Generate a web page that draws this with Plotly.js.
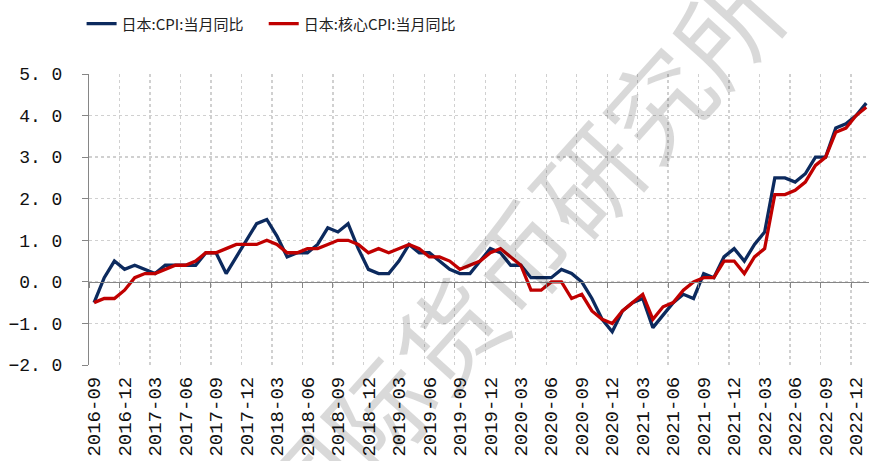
<!DOCTYPE html>
<html>
<head>
<meta charset="utf-8">
<script src="https://cdn.plot.ly/plotly-3.0.1.min.js"></script>
<style>html,body{margin:0;padding:0;background:#fff;}#chart{width:869px;height:461px;}</style>
</head>
<body>
<div id="chart"></div>
<script>
// Months (categories)
var months = [
  "2016-09","2016-10","2016-11","2016-12",
  "2017-01","2017-02","2017-03","2017-04","2017-05","2017-06","2017-07","2017-08","2017-09","2017-10","2017-11","2017-12",
  "2018-01","2018-02","2018-03","2018-04","2018-05","2018-06","2018-07","2018-08","2018-09","2018-10","2018-11","2018-12",
  "2019-01","2019-02","2019-03","2019-04","2019-05","2019-06","2019-07","2019-08","2019-09","2019-10","2019-11","2019-12",
  "2020-01","2020-02","2020-03","2020-04","2020-05","2020-06","2020-07","2020-08","2020-09","2020-10","2020-11","2020-12",
  "2021-01","2021-02","2021-03","2021-04","2021-05","2021-06","2021-07","2021-08","2021-09","2021-10","2021-11","2021-12",
  "2022-01","2022-02","2022-03","2022-04","2022-05","2022-06","2022-07","2022-08","2022-09","2022-10","2022-11","2022-12",
  "2023-01"
];

// 日本:CPI:当月同比
var cpi = [
  -0.5, 0.1, 0.5, 0.3,
  0.4, 0.3, 0.2, 0.4, 0.4, 0.4, 0.4, 0.7, 0.7, 0.2, 0.6, 1.0,
  1.4, 1.5, 1.1, 0.6, 0.7, 0.7, 0.9, 1.3, 1.2, 1.4, 0.8, 0.3,
  0.2, 0.2, 0.5, 0.9, 0.7, 0.7, 0.5, 0.3, 0.2, 0.2, 0.5, 0.8,
  0.7, 0.4, 0.4, 0.1, 0.1, 0.1, 0.3, 0.2, 0.0, -0.4, -0.9, -1.2,
  -0.7, -0.5, -0.4, -1.1, -0.8, -0.5, -0.3, -0.4, 0.2, 0.1, 0.6, 0.8,
  0.5, 0.9, 1.2, 2.5, 2.5, 2.4, 2.6, 3.0, 3.0, 3.7, 3.8, 4.0,
  4.3
];

// 日本:核心CPI:当月同比
var coreCpi = [
  -0.5, -0.4, -0.4, -0.2,
  0.1, 0.2, 0.2, 0.3, 0.4, 0.4, 0.5, 0.7, 0.7, 0.8, 0.9, 0.9,
  0.9, 1.0, 0.9, 0.7, 0.7, 0.8, 0.8, 0.9, 1.0, 1.0, 0.9, 0.7,
  0.8, 0.7, 0.8, 0.9, 0.8, 0.6, 0.6, 0.5, 0.3, 0.4, 0.5, 0.7,
  0.8, 0.6, 0.4, -0.2, -0.2, 0.0, 0.0, -0.4, -0.3, -0.7, -0.9, -1.0,
  -0.7, -0.5, -0.3, -0.9, -0.6, -0.5, -0.2, 0.0, 0.1, 0.1, 0.5, 0.5,
  0.2, 0.6, 0.8, 2.1, 2.1, 2.2, 2.4, 2.8, 3.0, 3.6, 3.7, 4.0,
  4.2
];

var seriesNames = ["日本:CPI:当月同比", "日本:核心CPI:当月同比"];
var yTickVals = [-2, -1, 0, 1, 2, 3, 4, 5];
var yTickText = ["−2. 0", "−1. 0", "0. 0", "1. 0", "2. 0", "3. 0", "4. 0", "5. 0"];
var watermark = "国际货币研究所";

var monoFont = "Liberation Mono, Noto Sans CJK SC, monospace";
var legendFont = {family: "Noto Sans CJK SC", size: 15, color: "#222"};
var gray = "#868686";
var xRange = [-0.5, 76.27];

var traces = [
  {x: months, y: cpi, name: seriesNames[0], type: "scatter", mode: "lines",
   line: {color: "#0c2a5e", width: 3.3}, xaxis: "x", yaxis: "y", legend: "legend"},
  {x: months, y: coreCpi, name: seriesNames[1], type: "scatter", mode: "lines",
   line: {color: "#c00000", width: 3.3}, xaxis: "x2", yaxis: "y", legend: "legend2"}
];

var layout = {
  width: 869, height: 461,
  margin: {l: 89, r: 0, t: 74, b: 96, pad: 0},
  paper_bgcolor: "#ffffff", plot_bgcolor: "#ffffff",
  showlegend: true,
  legend: {orientation: "h", x: -0.0095, xanchor: "left", y: 1.172, yanchor: "middle",
           font: legendFont, bgcolor: "rgba(0,0,0,0)"},
  legend2: {orientation: "h", x: 0.224, xanchor: "left", y: 1.172, yanchor: "middle",
           font: legendFont, bgcolor: "rgba(0,0,0,0)"},
  xaxis: {type: "category", range: xRange, tickmode: "linear", tick0: 0, dtick: 3,
          tickson: "boundaries", showgrid: true, gridcolor: "#d0d0d0", griddash: "dot", gridwidth: 1.3,
          ticks: "", showline: false, zeroline: false, tickangle: -90, ticklabelstandoff: 7,
          tickfont: {family: monoFont, size: 19, color: "#111"}, automargin: false},
  xaxis2: {type: "category", overlaying: "x", anchor: "free", position: 2/7, range: xRange,
           tickmode: "linear", tick0: 0, dtick: 3, tickson: "boundaries",
           showgrid: false, showticklabels: false, ticks: "outside", ticklen: 5, tickcolor: gray, tickwidth: 1,
           showline: true, linecolor: gray, linewidth: 1, zeroline: false},
  yaxis: {range: [-2, 5], tickmode: "array", tickvals: yTickVals, ticktext: yTickText,
          showgrid: true, gridcolor: "#d0d0d0", griddash: "dot", gridwidth: 1.3,
          zeroline: false, showline: true, linecolor: gray, linewidth: 1,
          ticks: "outside", ticklen: 6, tickcolor: gray, ticklabelstandoff: 16,
          tickfont: {family: monoFont, size: 18, color: "#111"}, automargin: false},
  annotations: [
    {text: watermark, xref: "paper", yref: "paper", x: 0.546, y: 0.378,
     showarrow: false, textangle: -48,
     font: {family: "Noto Sans CJK SC", size: 104, color: "rgba(0,0,0,0.15)"}}
  ]
};

Plotly.newPlot("chart", traces, layout, {displayModeBar: false, staticPlot: true});
</script>
</body>
</html>
